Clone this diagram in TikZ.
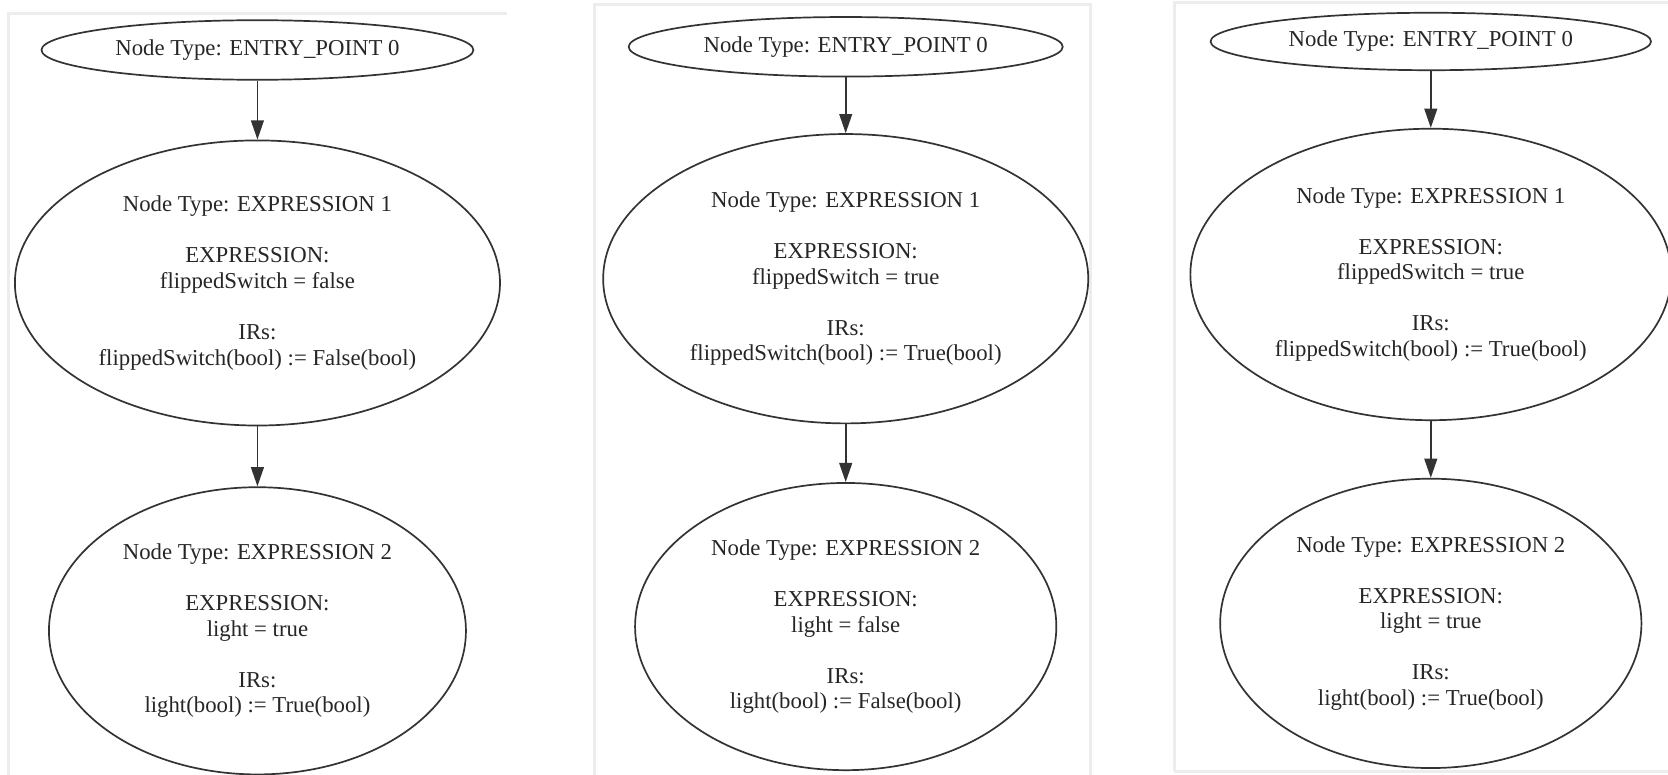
\documentclass[tikz,border=0pt]{standalone}
\usepackage{fontspec}
\setmainfont{Liberation Serif}
\usetikzlibrary{shapes.geometric,arrows.meta}
\begin{document}
\begin{tikzpicture}[x=0.5pt,y=-0.5pt,
  every node/.style={text=black!85},
  oval/.style={ellipse, draw=black!80, line width=0.8pt, inner sep=0pt,
    align=center, font=\fontsize{10.7}{12}\selectfont},
  flow/.style={draw=black!80, line width=0.8pt,
    -{Triangle[length=9pt,width=6pt]}},
  frame/.style={draw=black!7, line width=1.5pt}]
\useasboundingbox (0,0) rectangle (1568,728);
\fill[white] (0,0) rectangle (1568,728);

% faint panel edges
\draw[frame] (8,740) -- (8,13) -- (477,13);
\draw[frame] (559,740) -- (559,4) -- (1025,4) -- (1025,740);
\draw[frame] (1104,725) -- (1104,2) -- (1568,2);
\draw[frame] (1104,725) -- (1568,725);

% ---- left graph ----
\node[oval, minimum width=203pt, minimum height=28pt] (a0) at (242,47)
  {Node Type: ENTRY\_POINT 0};
\node[oval, minimum width=228pt, minimum height=134pt] (a1) at (242,266)
  {Node Type: EXPRESSION 1\\[12pt]EXPRESSION:\\flippedSwitch = false\\[12pt]IRs:\\flippedSwitch(bool) := False(bool)};
\node[oval, minimum width=196pt, minimum height=135pt] (a2) at (242,593)
  {Node Type: EXPRESSION 2\\[12pt]EXPRESSION:\\light = true\\[12pt]IRs:\\light(bool) := True(bool)};
\draw[flow] (a0.south) -- (a1.north);
\draw[flow] (a1.south) -- (a2.north);

% ---- middle graph ----
\node[oval, minimum width=204pt, minimum height=28pt] (b0) at (795,44)
  {Node Type: ENTRY\_POINT 0};
\node[oval, minimum width=228pt, minimum height=136pt] (b1) at (795,262)
  {Node Type: EXPRESSION 1\\[12pt]EXPRESSION:\\flippedSwitch = true\\[12pt]IRs:\\flippedSwitch(bool) := True(bool)};
\node[oval, minimum width=198pt, minimum height=135pt] (b2) at (795,589)
  {Node Type: EXPRESSION 2\\[12pt]EXPRESSION:\\light = false\\[12pt]IRs:\\light(bool) := False(bool)};
\draw[flow] (b0.south) -- (b1.north);
\draw[flow] (b1.south) -- (b2.north);

% ---- right graph ----
\node[oval, minimum width=207pt, minimum height=27pt] (c0) at (1345,39)
  {Node Type: ENTRY\_POINT 0};
\node[oval, minimum width=226pt, minimum height=137pt] (c1) at (1345,258)
  {Node Type: EXPRESSION 1\\[12pt]EXPRESSION:\\flippedSwitch = true\\[12pt]IRs:\\flippedSwitch(bool) := True(bool)};
\node[oval, minimum width=198pt, minimum height=136pt] (c2) at (1345,586)
  {Node Type: EXPRESSION 2\\[12pt]EXPRESSION:\\light = true\\[12pt]IRs:\\light(bool) := True(bool)};
\draw[flow] (c0.south) -- (c1.north);
\draw[flow] (c1.south) -- (c2.north);
\end{tikzpicture}
\end{document}
